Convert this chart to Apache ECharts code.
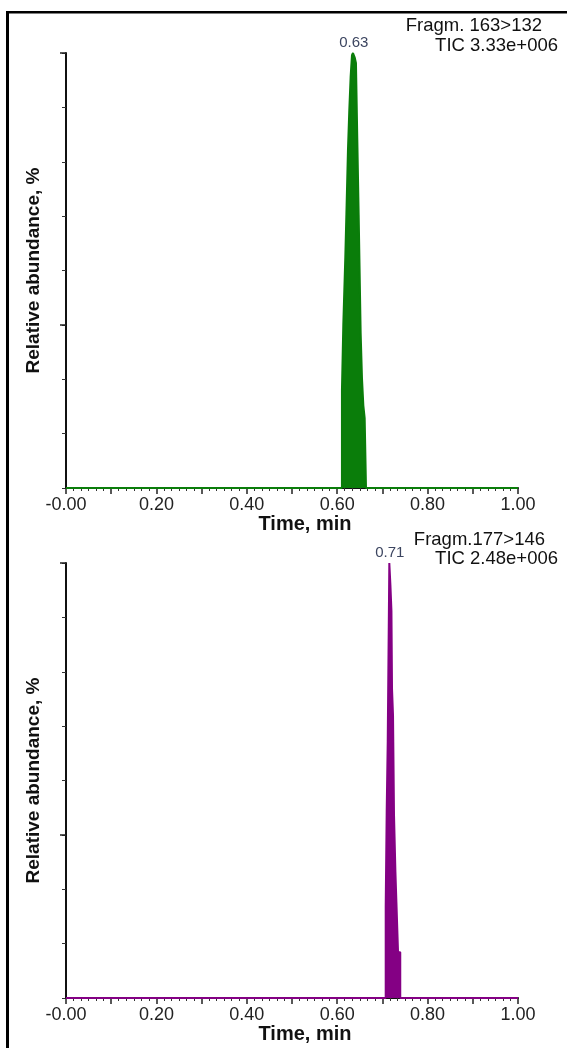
<!DOCTYPE html>
<html>
<head>
<meta charset="utf-8">
<script src="https://cdn.jsdelivr.net/npm/echarts@6/dist/echarts.min.js"></script>
<style>
html,body{margin:0;padding:0;background:#fff;}
#chart{width:567px;height:1048px;}
</style>
</head>
<body>
<div id="chart"></div>
<script>
// ---- Data ----
var xTickLabels = ['-0.00', '0.20', '0.40', '0.60', '0.80', '1.00'];
var yAxisTitle = 'Relative abundance, %';
var xAxisTitle = 'Time, min';

// Top chromatogram: Fragm. 163>132 (time in min, relative abundance %)
var topTimes = [0, 0.6105, 0.6135, 0.6179, 0.6208, 0.6238, 0.6268, 0.6297, 0.6327, 0.6349, 0.6386, 0.6415, 0.6445, 0.6475, 0.6519, 0.6548, 0.6578, 0.6608, 0.6637, 1];
var topAbund = [0, 22.5, 37.5, 53, 65, 77.7, 87, 94.5, 99.5, 100, 99, 97.7, 80, 62.8, 35.6, 25.3, 19, 16, 0, 0];
var topHeader = ['Fragm. 163>132', 'TIC 3.33e+006'];
var topPeakLabel = '0.63';

// Bottom chromatogram: Fragm. 177>146
var botTimes = [0, 0.7073, 0.7095, 0.7118, 0.7135, 0.7153, 0.7177, 0.7200, 0.7213, 0.7235, 0.7257, 0.7288, 0.7310, 0.7346, 0.7395, 1];
var botAbund = [0, 21, 43, 59, 79, 100, 95, 89, 71, 65, 42, 29, 22, 10.5, 0, 0];
var botHeader = ['Fragm.177>146', 'TIC 2.48e+006'];
var botPeakLabel = '0.71';

var FONT = '"Liberation Sans", Arial, sans-serif';

function pairs(t, v) { return t.map(function (x, i) { return [x, v[i]]; }); }
function peakTime(t, v) { var m = 0; for (var i = 1; i < v.length; i++) if (v[i] > v[m]) m = i; return t[m] + (t[m + 1] - t[m]) / 2; }

function xAxisFor(gi) {
  return {
    gridIndex: gi, type: 'value', min: 0, max: 1, interval: 0.1, offset: 2,
    name: xAxisTitle, nameLocation: 'middle', nameGap: 16,
    nameTextStyle: { fontFamily: FONT, fontSize: 20, fontWeight: 'bold', color: '#111', padding: [0, 0, 0, 26], verticalAlign: 'top' },
    axisLine: { show: true, lineStyle: { color: '#111', width: 2 } },
    axisTick: { show: true, length: 6, lineStyle: { color: '#222', width: 1.5 } },
    minorTick: { show: true, splitNumber: 6, length: 3, lineStyle: { color: '#333', width: 1 } },
    splitLine: { show: false },
    axisLabel: {
      show: true, margin: 6, fontFamily: FONT, fontSize: 18, color: '#222',
      formatter: function (v) { var k = Math.round(v * 10); return k % 2 === 0 ? xTickLabels[k / 2] : ''; }
    }
  };
}
function yAxisMinor(gi) {
  return {
    gridIndex: gi, type: 'value', min: 0, max: 100, interval: 12.5,
    name: yAxisTitle, nameLocation: 'middle', nameGap: 23, nameRotate: 90,
    nameTextStyle: { fontFamily: FONT, fontSize: 19, fontWeight: 'bold', color: '#111' },
    axisLine: { show: true, lineStyle: { color: '#111', width: 2 } },
    axisTick: { show: true, length: 4, lineStyle: { color: '#333', width: 1 } },
    axisLabel: { show: false }, splitLine: { show: false }
  };
}
function yAxisMajor(gi) {
  return {
    gridIndex: gi, type: 'value', min: 0, max: 100, position: 'left',
    axisLine: { show: false },
    axisTick: { show: true, length: 6, customValues: [37.5, 100], lineStyle: { color: '#222', width: 1.5 } },
    axisLabel: { show: false }, splitLine: { show: false }
  };
}
function peakSeries(xi, yi, t, v, color, label) {
  return {
    type: 'line', xAxisIndex: xi, yAxisIndex: yi, step: 'end', symbol: 'none',
    data: pairs(t, v), animation: false,
    lineStyle: { color: color, width: 2 },
    areaStyle: { color: color, opacity: 1 },
    markPoint: {
      symbol: 'circle', symbolSize: 0, animation: false,
      data: [{ coord: [peakTime(t, v), Math.max.apply(null, v)], value: label }],
      label: { show: true, position: 'top', distance: 3, formatter: label, fontFamily: FONT, fontSize: 15, color: '#3c4560' }
    }
  };
}

var chart = echarts.init(document.getElementById('chart'), null, { renderer: 'canvas' });
chart.setOption({
  backgroundColor: '#fff',
  animation: false,
  grid: [
    { left: 66, top: 53, width: 452, height: 435 },
    { left: 66, top: 563, width: 452, height: 435 }
  ],
  xAxis: [xAxisFor(0), xAxisFor(1)],
  yAxis: [yAxisMinor(0), yAxisMajor(0), yAxisMinor(1), yAxisMajor(1)],
  series: [
    peakSeries(0, 0, topTimes, topAbund, '#0a7d0a', topPeakLabel),
    peakSeries(1, 2, botTimes, botAbund, '#840084', botPeakLabel)
  ],
  graphic: [
    { type: 'rect', left: 6, top: 11, shape: { width: 3, height: 1040 }, style: { fill: '#000' } },
    { type: 'rect', left: 6, top: 11, shape: { width: 570, height: 2.5 }, style: { fill: '#000' } },
    { type: 'text', right: 25, top: 16, style: { text: topHeader[0], font: '18.5px ' + FONT, fill: '#111' } },
    { type: 'text', right: 9, top: 36, style: { text: topHeader[1], font: '18.5px ' + FONT, fill: '#111' } },
    { type: 'text', right: 22, top: 530, style: { text: botHeader[0], font: '18.5px ' + FONT, fill: '#111' } },
    { type: 'text', right: 9, top: 549, style: { text: botHeader[1], font: '18.5px ' + FONT, fill: '#111' } }
  ]
});
</script>
</body>
</html>
